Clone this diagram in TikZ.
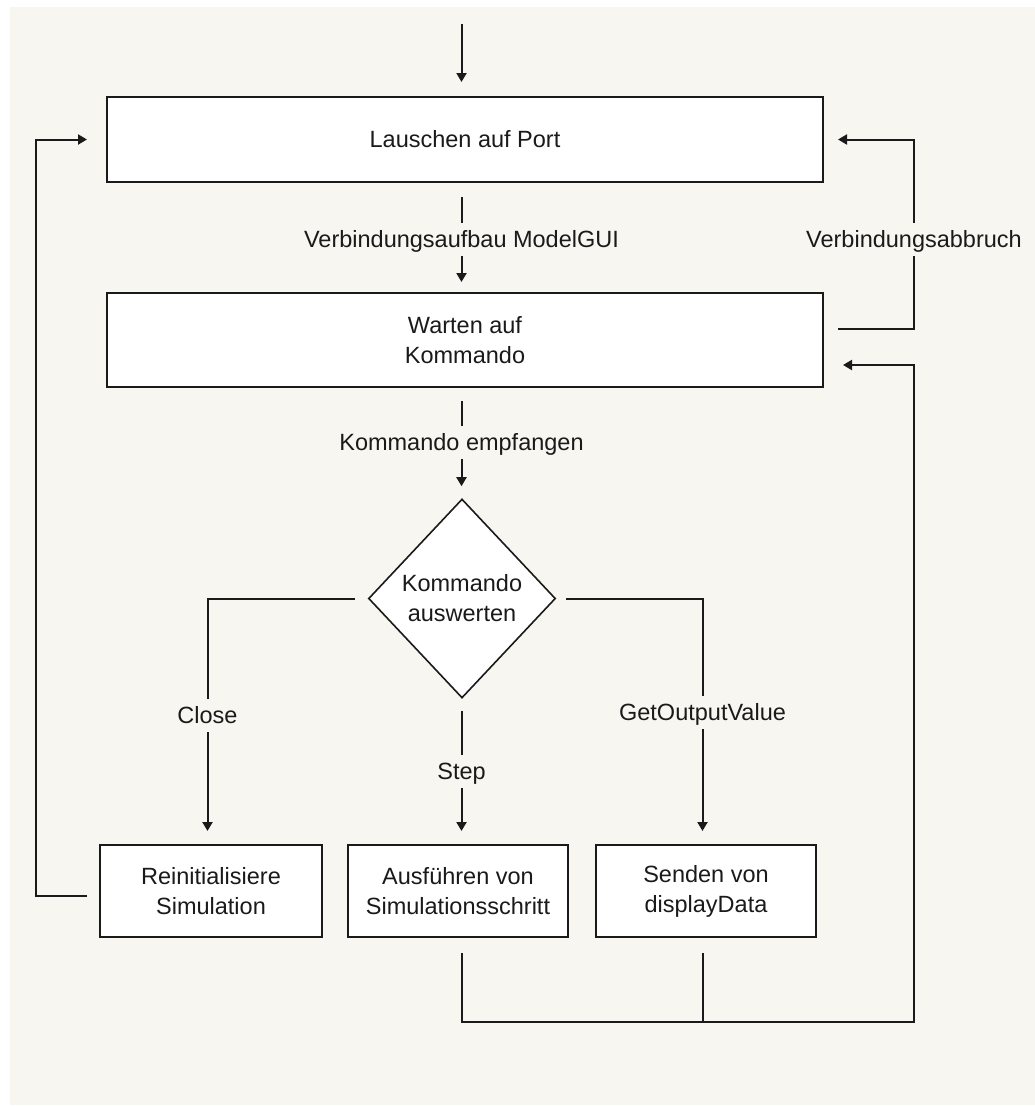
\documentclass[tikz,border=0pt]{standalone}
\usepackage{fontspec}
\setmainfont{Liberation Sans}
\usetikzlibrary{arrows.meta,shapes.geometric}
\definecolor{paper}{RGB}{248,246,240}
\definecolor{ink}{RGB}{26,26,26}
\begin{document}
\begin{tikzpicture}[x=1pt,y=-1pt,
  font=\fontsize{23.5}{30}\selectfont,
  box/.style={draw=ink, line width=2pt, fill=white, align=center, inner sep=0pt, text=ink},
  decision/.style={diamond, draw=ink, line width=1.6pt, fill=white, align=center,
    inner sep=0pt, minimum width=187pt, minimum height=199pt, aspect=0.94, text=ink},
  lbl/.style={inner xsep=3pt, inner ysep=4pt, text height=20pt, text depth=5pt,
    anchor=base, text=ink},
  wire/.style={draw=ink, line width=2pt},
  flow/.style={wire, -{Triangle[length=9pt,width=10pt]}},
]
\useasboundingbox (0,0) rectangle (1035,1106);
\fill[white] (0,0) rectangle (1035,1106);
\fill[paper] (10,7) rectangle (1035,1105);

% states
\node[box, minimum width=716pt, minimum height=85pt] (listen) at (465,139.5) {Lauschen auf Port};
\node[box, minimum width=716pt, minimum height=94pt] (wait) at (465,340) {Warten auf\\Kommando};
\node[decision] (eval) at (462,598.5) {Kommando\\auswerten};
\node[box, minimum width=222pt, minimum height=92pt] (reinit) at (211,891) {Reinitialisiere\\Simulation};
\node[box, minimum width=220pt, minimum height=92pt] (exec) at (458,891) {Ausführen von\\Simulationsschritt};
\node[box, minimum width=220pt, minimum height=92pt] (send) at (706,891) {Senden von\\displayData};

% transition labels (placed by baseline)
\node[lbl] (connect) at (461.5,247) {Verbindungsaufbau ModelGUI};
\node[lbl] (received) at (461.5,450) {Kommando empfangen};
\node[lbl] (close) at (207.5,723) {Close};
\node[lbl] (stepcmd) at (461.5,779) {Step};
\node[lbl] (getout) at (702.5,720) {GetOutputValue};
\node[lbl] (lost) at (914,247) {Verbindungsabbruch};

% free ends and rails
\coordinate (entry) at (461.5,24);
\coordinate (railL) at (36,0);
\coordinate (busR) at (914,1022);

% main column
\draw[flow, shorten >=14pt] (entry) -- (entry |- listen.north);
\draw[wire, shorten <=14pt] (connect |- listen.south) -- (connect.north);
\draw[flow, shorten >=10pt] (connect.south) -- (connect.south |- wait.north);
\draw[wire, shorten <=13pt] (received |- wait.south) -- (received.north);
\draw[flow, shorten >=12pt] (received.south) -- (received.south |- eval.north);

% branches of the decision
\draw[wire, shorten <=13pt] (eval.west) -| (close.north);
\draw[flow, shorten >=13pt] (close.south) -- (close.south |- reinit.north);
\draw[wire, shorten <=12pt] (stepcmd |- eval.south) -- (stepcmd.north);
\draw[flow, shorten >=13pt] (stepcmd.south) -- (stepcmd.south |- exec.north);
\draw[wire, shorten <=10pt] (eval.east) -| (getout.north);
\draw[flow, shorten >=13pt] (getout.south) -- (getout.south |- send.north);

% return paths
\draw[flow, shorten <=12pt, shorten >=19pt]
  ([yshift=-5pt]reinit.west) -- ([yshift=-5pt]reinit.west -| railL) |- (listen.west);
\draw[wire, shorten <=14pt] ([yshift=11pt]wait.east) -| (lost.south);
\draw[flow, shorten >=14pt] (lost.north) |- (listen.east);
\draw[flow, shorten <=15pt, shorten >=19pt]
  (stepcmd |- exec.south) |- (busR) |- ([yshift=-25pt]wait.east);
\draw[wire, shorten <=15pt] (getout |- send.south) -- (getout |- busR);
\end{tikzpicture}
\end{document}
